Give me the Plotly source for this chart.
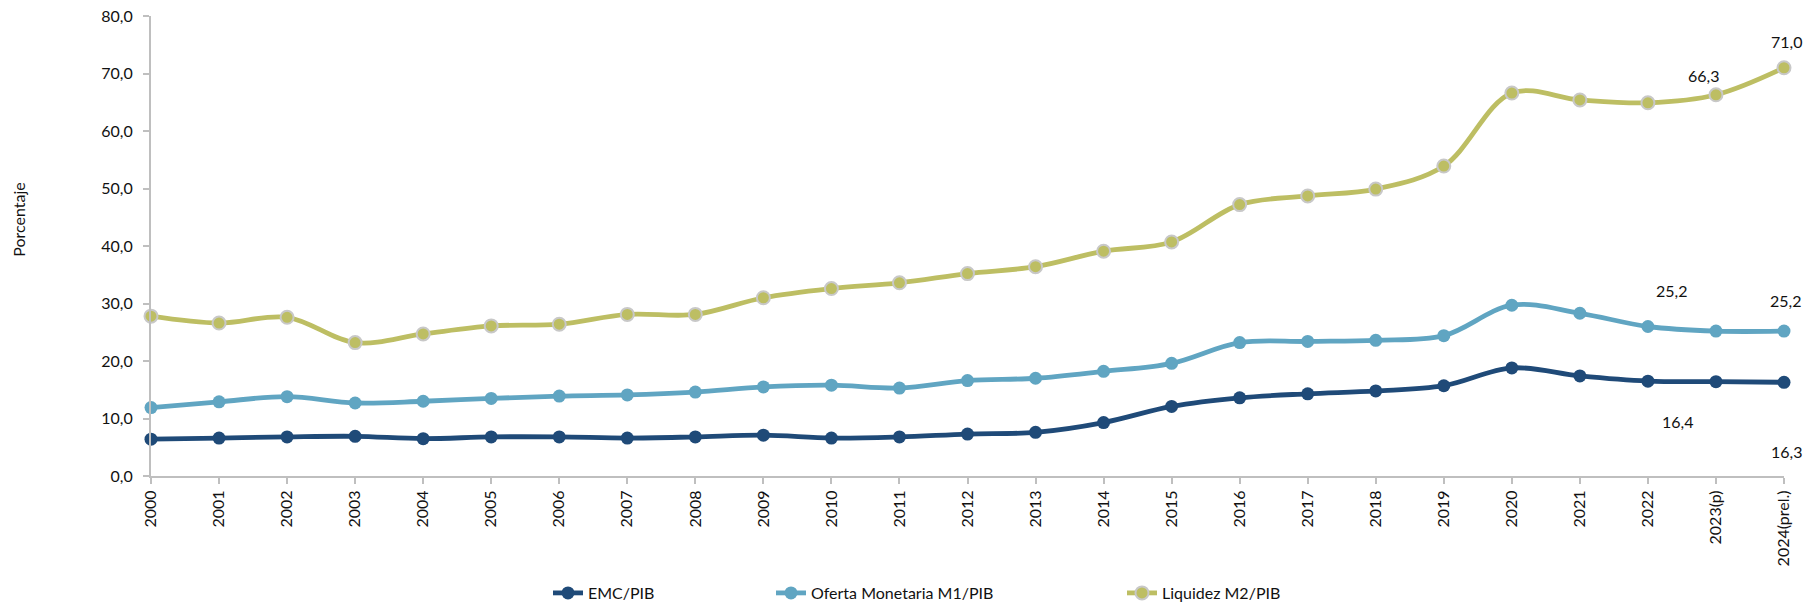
import plotly.graph_objects as go

years = [str(y) for y in range(2000, 2023)] + ["2023(p)", "2024(prel.)"]
emc = [6.4, 6.6, 6.8, 6.9, 6.5, 6.8, 6.8, 6.6, 6.8, 7.1, 6.6, 6.8, 7.3, 7.6,
       9.3, 12.1, 13.6, 14.3, 14.8, 15.7, 18.8, 17.4, 16.5, 16.4, 16.3]
m1 = [11.9, 12.9, 13.8, 12.7, 13.0, 13.5, 13.9, 14.1, 14.6, 15.5, 15.8, 15.3, 16.6, 17.0,
      18.2, 19.6, 23.2, 23.4, 23.6, 24.4, 29.7, 28.3, 26.0, 25.2, 25.2]
m2 = [27.8, 26.6, 27.6, 23.2, 24.7, 26.1, 26.4, 28.1, 28.1, 31.0, 32.6, 33.6, 35.2, 36.4,
      39.1, 40.7, 47.2, 48.7, 49.9, 53.9, 66.6, 65.4, 64.9, 66.3, 71.0]
series_names = ["EMC/PIB", "Oferta Monetaria M1/PIB", "Liquidez M2/PIB"]
labelled_idx = [0, 23, 24]

FONT = "Lato, 'Open Sans', sans-serif"
TXT = "#111111"
colors = ["#1F4A78", "#60A5C2", "#BDBE63"]

fig = go.Figure()
series = [emc, m1, m2]
legends = ["legend", "legend2", "legend3"]
for i, (vals, name) in enumerate(zip(series, series_names)):
    mk = dict(size=13, color=colors[i])
    if i == 2:
        mk["line"] = dict(color="#C8C8C8", width=2)
    fig.add_trace(go.Scatter(
        x=years, y=vals, name=name, mode="lines+markers",
        line=dict(color=colors[i], width=4.8, shape="spline", smoothing=1.0),
        marker=mk, cliponaxis=False, legend=legends[i]))

# data label offsets (px) per series per labelled index
offsets = {
    0: [(8, -22), (-38, -40), (2, -69)],
    1: [(22, 14), (-44, 41), (1, 31)],
    2: [(24, 18), (-12, 19), (2, 26)],
}
for s, vals in enumerate(series):
    for k, idx in enumerate(labelled_idx):
        dx, dy = offsets[s][k]
        fig.add_annotation(x=years[idx], y=vals[idx], text=f"{vals[idx]:.1f}".replace(".", ","),
                           showarrow=False, xshift=dx, yshift=dy,
                           xanchor="center", yanchor="middle",
                           font=dict(family=FONT, size=16, color=TXT))

fig.add_annotation(xref="x domain", yref="y domain",
                   x=(19 - 151) / 1633, y=(476.5 - 220) / 460.5, text="Porcentaje",
                   xanchor="center", yanchor="middle",
                   showarrow=False, textangle=-90, font=dict(family=FONT, size=16, color=TXT))

axis_gray = "#BFBFBF"
fig.update_layout(
    width=1806, height=602,
    margin=dict(l=151, r=22, t=16, b=125.5, autoexpand=False),
    paper_bgcolor="white", plot_bgcolor="white",
    font=dict(family=FONT, size=16, color=TXT),
    showlegend=True,
    separators=",.",
    xaxis=dict(type="category", range=[0, 24], showgrid=False, showline=True,
               linecolor=axis_gray, linewidth=2, ticks="outside", ticklen=6,
               tickcolor=axis_gray, tickwidth=1.5, tickangle=-90, automargin=False,
               tickfont=dict(family=FONT, size=16, color=TXT)),
    yaxis=dict(range=[0, 80], dtick=10, showgrid=False, zeroline=False, showline=True,
               linecolor=axis_gray, linewidth=2, ticks="outside", ticklen=6,
               tickcolor=axis_gray, tickwidth=1.5, tickformat=".1f", automargin=False,
               ticklabelstandoff=7,
               tickfont=dict(family=FONT, size=16, color=TXT)),
)

leg_x = [548, 771, 1122]
for name, lx in zip(legends, leg_x):
    fig.update_layout({name: dict(x=lx / 1806, y=9 / 602, xref="container", yref="container",
                                  xanchor="left", yanchor="middle", orientation="h",
                                  bgcolor="rgba(0,0,0,0)",
                                  font=dict(family=FONT, size=16, color=TXT))})

fig.write_html("out.html", config={"displayModeBar": False},
               post_script="document.body.style.margin='0';document.body.style.overflow='hidden';")
